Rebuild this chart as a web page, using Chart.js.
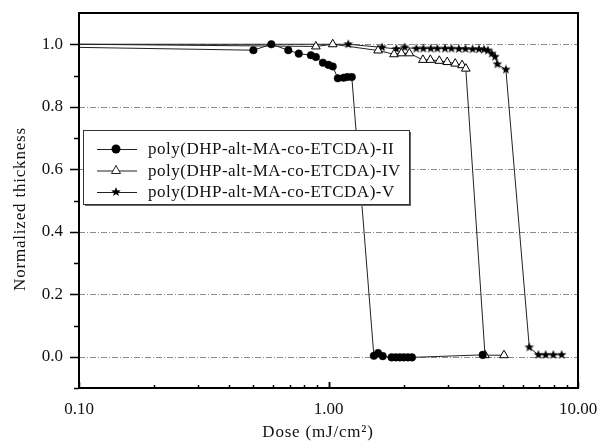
<!DOCTYPE html>
<html>
<head>
<meta charset="utf-8">
<script src="https://cdn.jsdelivr.net/npm/chart.js@4/dist/chart.umd.min.js"></script>
<style>
  html, body { margin: 0; padding: 0; background: #fff; }
</style>
</head>
<body>
<canvas id="myChart" width="608" height="442"></canvas>
<script>
// Данные
const seriesLabels = [
  'poly(DHP-alt-MA-co-ETCDA)-II',
  'poly(DHP-alt-MA-co-ETCDA)-IV',
  'poly(DHP-alt-MA-co-ETCDA)-V'
];

const doseII = [0.10, 0.50, 0.59, 0.69, 0.76, 0.85, 0.89, 0.95, 1.00, 1.04, 1.09, 1.15, 1.19, 1.24,
  1.52, 1.58, 1.65, 1.79, 1.86, 1.93, 2.00, 2.08, 2.16, 4.15];
const thickII = [0.99, 0.981, 1.00, 0.981, 0.97, 0.965, 0.959, 0.941, 0.934, 0.929, 0.891, 0.893, 0.895, 0.895,
  0.003, 0.012, 0.002, -0.002, -0.002, -0.002, -0.002, -0.002, -0.002, 0.006];

const doseIV = [0.10, 0.89, 1.04, 1.58, 1.83, 1.96, 2.11, 2.39, 2.56, 2.78, 2.99, 3.22, 3.43, 3.55, 4.24, 5.05];
const thickIV = [1.00, 0.993, 1.00, 0.98, 0.968, 0.971, 0.971, 0.95, 0.95, 0.947, 0.943, 0.938, 0.933, 0.922, 0.005, 0.005];

const doseV = [0.10, 1.20, 1.64, 1.87, 2.02, 2.25, 2.40, 2.57, 2.73, 2.93, 3.11, 3.33, 3.54, 3.78, 4.01, 4.20,
  4.36, 4.51, 4.65, 4.75, 5.14, 6.38, 6.94, 7.42, 7.96, 8.60];
const thickV = [1.00, 1.00, 0.99, 0.985, 0.99, 0.986, 0.986, 0.986, 0.986, 0.986, 0.986, 0.985, 0.985, 0.984, 0.984, 0.983,
  0.98, 0.97, 0.96, 0.936, 0.919, 0.03, 0.006, 0.006, 0.006, 0.006];

const xTickValues = [0.1, 1, 10];
const yGridValues = [0, 0.2, 0.4, 0.6, 0.8, 1.0];

const serif = "'Liberation Serif', 'Times New Roman', serif";
Chart.defaults.font.family = serif;
Chart.defaults.color = '#111';

// звездочка как картинка для pointStyle
function makeStar(r) {
  const c = document.createElement('canvas');
  const s = Math.ceil(r * 2 + 2);
  c.width = s;
  c.height = s;
  const g = c.getContext('2d');
  g.beginPath();
  for (let i = 0; i < 10; i++) {
    const a = -Math.PI / 2 + i * Math.PI / 5;
    const rr = i % 2 ? r * 0.42 : r;
    g.lineTo(s / 2 + rr * Math.cos(a), s / 2 + rr * Math.sin(a));
  }
  g.closePath();
  g.fillStyle = '#000';
  g.fill();
  return c;
}
const star = makeStar(5);

const toPoints = (xs, ys) => xs.map((v, i) => ({ x: v, y: ys[i] }));
const hideFirst = (ctx, r) => (ctx.dataIndex === 0 ? 0 : r);

const frame = {
  id: 'frame',
  beforeDatasetsDraw(chart) {
    const { ctx, chartArea: a, scales: { y } } = chart;
    ctx.save();
    ctx.strokeStyle = '#8a8a8a';
    ctx.lineWidth = 1;
    ctx.setLineDash([6, 2, 1, 2]);
    yGridValues.forEach((v) => {
      const py = Math.round(y.getPixelForValue(v)) + 0.5;
      ctx.beginPath();
      ctx.moveTo(a.left, py);
      ctx.lineTo(a.right, py);
      ctx.stroke();
    });
    ctx.restore();
  },
  afterDatasetsDraw(chart) {
    const { ctx, chartArea: a, scales: { x, y } } = chart;
    ctx.save();

    // легенда
    const box = { left: 83, top: 130, right: 409, bottom: 204 };
    ctx.fillStyle = '#fff';
    ctx.fillRect(box.left, box.top, box.right - box.left, box.bottom - box.top);
    ctx.fillStyle = '#666';
    ctx.fillRect(box.left + 2, box.bottom, box.right - box.left, 2);
    ctx.fillRect(box.right, box.top + 2, 2, box.bottom - box.top);
    ctx.strokeStyle = '#333';
    ctx.lineWidth = 1;
    ctx.strokeRect(box.left + 0.5, box.top + 0.5, box.right - box.left, box.bottom - box.top);

    const rows = [149, 170.5, 192];
    ctx.font = '17px ' + serif;
    ctx.letterSpacing = '0.5px';
    ctx.textBaseline = 'middle';
    ctx.textAlign = 'left';
    rows.forEach((ry, i) => {
      ctx.strokeStyle = '#222';
      ctx.beginPath();
      ctx.moveTo(97, ry + 0.5);
      ctx.lineTo(137, ry + 0.5);
      ctx.stroke();
      ctx.fillStyle = '#000';
      if (i === 0) {
        ctx.beginPath();
        ctx.arc(116, ry, 4.5, 0, Math.PI * 2);
        ctx.fill();
      } else if (i === 1) {
        ctx.beginPath();
        ctx.moveTo(116, ry - 5);
        ctx.lineTo(120.5, ry + 3);
        ctx.lineTo(111.5, ry + 3);
        ctx.closePath();
        ctx.fillStyle = '#fff';
        ctx.fill();
        ctx.stroke();
      } else {
        ctx.drawImage(star, 116 - star.width / 2, ry - star.height / 2);
      }
      ctx.fillStyle = '#111';
      ctx.fillText(seriesLabels[i], 148, ry + 1);
    });

    // рамка
    ctx.strokeStyle = '#000';
    ctx.lineWidth = 2;
    ctx.strokeRect(a.left, a.top, a.right - a.left, a.bottom - a.top);

    // засечки по y наружу
    ctx.lineWidth = 1.5;
    for (let k = -1; k <= 10; k++) {
      const py = Math.round(y.getPixelForValue(k / 10)) + 0.5;
      const len = k % 2 === 0 ? 9 : 5;
      ctx.beginPath();
      ctx.moveTo(a.left, py);
      ctx.lineTo(a.left - len, py);
      ctx.stroke();
    }
    // засечки по x внутрь
    [0.1, 1].forEach((d) => {
      for (let m = 1; m <= 10; m++) {
        const px = Math.round(x.getPixelForValue(d * m)) + 0.5;
        const len = m === 1 || m === 10 ? 6 : 3;
        ctx.beginPath();
        ctx.moveTo(px, a.bottom);
        ctx.lineTo(px, a.bottom - len);
        ctx.stroke();
      }
    });

    // подписи осей
    ctx.fillStyle = '#111';
    ctx.font = '17px ' + serif;
    ctx.letterSpacing = '0.8px';
    ctx.textAlign = 'center';
    ctx.textBaseline = 'middle';
    ctx.fillText('Dose (mJ/cm\u00B2)', 318, 433);
    ctx.translate(21, 209);
    ctx.rotate(-Math.PI / 2);
    ctx.fillText('Normalized thickness', 0, 0);
    ctx.restore();
  }
};

new Chart(document.getElementById('myChart'), {
  type: 'scatter',
  data: {
    datasets: [
      {
        label: seriesLabels[0],
        data: toPoints(doseII, thickII),
        showLine: true,
        borderColor: '#222',
        borderWidth: 1,
        pointStyle: 'circle',
        pointRadius: (ctx) => hideFirst(ctx, 3.8),
        pointBackgroundColor: '#000',
        pointBorderColor: '#000',
        pointBorderWidth: 0.5
      },
      {
        label: seriesLabels[1],
        data: toPoints(doseIV, thickIV),
        showLine: true,
        borderColor: '#222',
        borderWidth: 1,
        pointStyle: 'triangle',
        pointRadius: (ctx) => hideFirst(ctx, 5),
        pointBackgroundColor: '#fff',
        pointBorderColor: '#000',
        pointBorderWidth: 1
      },
      {
        label: seriesLabels[2],
        data: toPoints(doseV, thickV),
        showLine: true,
        borderColor: '#222',
        borderWidth: 1,
        pointStyle: star,
        pointRadius: (ctx) => hideFirst(ctx, 5)
      }
    ]
  },
  options: {
    responsive: false,
    animation: false,
    events: [],
    layout: {
      padding: { left: 0, top: 13, right: 30, bottom: 0 }
    },
    plugins: {
      legend: { display: false },
      tooltip: { enabled: false }
    },
    scales: {
      x: {
        type: 'logarithmic',
        min: 0.1,
        max: 10,
        afterFit: (s) => { s.height = 54; s.paddingLeft = 0; s.paddingRight = 0; },
        afterBuildTicks: (s) => { s.ticks = xTickValues.map((v) => ({ value: v })); },
        grid: { display: false, drawTicks: false },
        border: { display: false },
        ticks: {
          autoSkip: false,
          maxRotation: 0,
          padding: 11,
          font: { size: 17 },
          callback: (v) => Number(v).toFixed(2)
        }
      },
      y: {
        min: -0.1,
        max: 1.1,
        afterFit: (s) => { s.width = 79; s.paddingTop = 0; s.paddingBottom = 0; },
        afterBuildTicks: (s) => { s.ticks = yGridValues.map((v) => ({ value: v })); },
        grid: { display: false, drawTicks: false },
        border: { display: false },
        ticks: {
          padding: 16,
          font: { size: 17 },
          callback: (v) => Number(v).toFixed(1)
        }
      }
    }
  },
  plugins: [frame]
});
</script>
</body>
</html>
